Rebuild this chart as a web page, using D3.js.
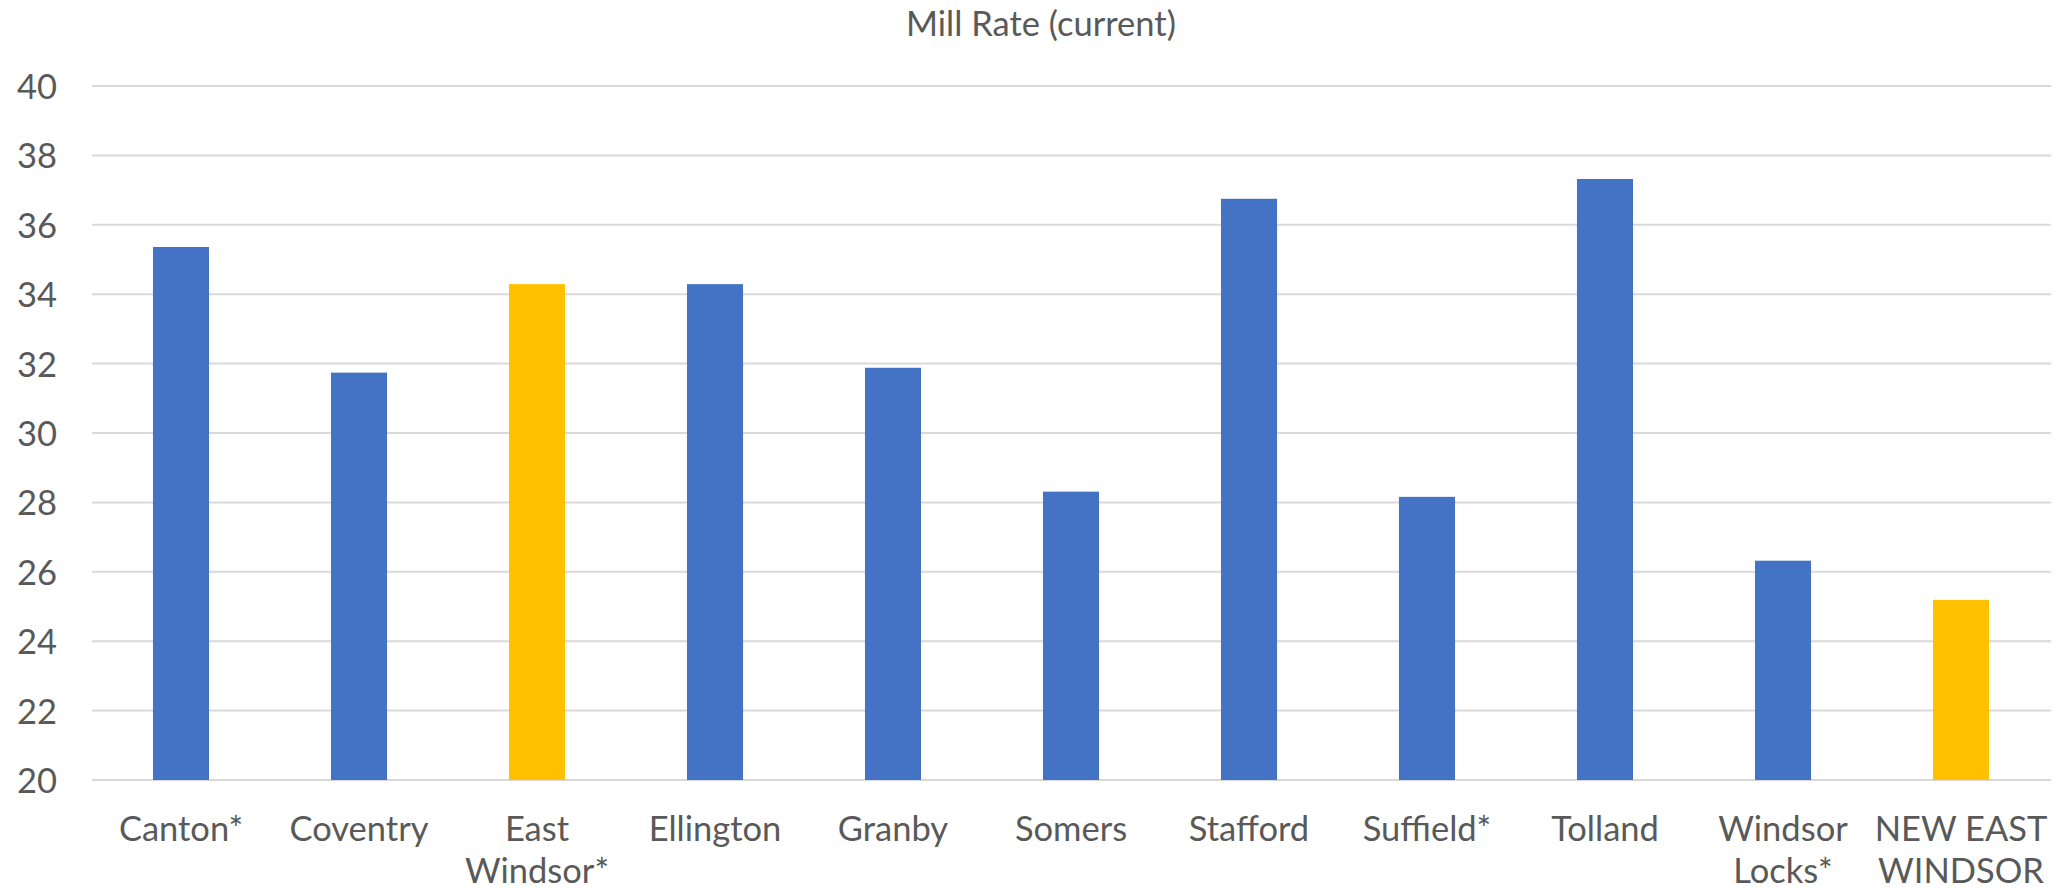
<!DOCTYPE html>
<html>
<head>
<meta charset="utf-8">
<script src="https://cdn.jsdelivr.net/npm/d3@7"></script>
<style>
  html, body { margin: 0; padding: 0; background: #ffffff; }
  svg { display: block; }
  text { font-family: "Lato", "Open Sans", sans-serif; fill: #595959; }
</style>
</head>
<body>
<svg id="chart" width="2058" height="890"></svg>
<script>
const categories = ["Canton*", "Coventry", "East Windsor*", "Ellington", "Granby", "Somers", "Stafford", "Suffield*", "Tolland", "Windsor Locks*", "NEW EAST WINDSOR"];
const labelLines = [["Canton*"], ["Coventry"], ["East", "Windsor*"], ["Ellington"], ["Granby"], ["Somers"], ["Stafford"], ["Suffield*"], ["Tolland"], ["Windsor", "Locks*"], ["NEW EAST", "WINDSOR"]];
const millRates = [35.36, 31.74, 34.29, 34.29, 31.88, 28.31, 36.75, 28.16, 37.32, 26.32, 25.19];
const highlighted = [false, false, true, false, false, false, false, false, false, false, true];
const yTicks = [20, 22, 24, 26, 28, 30, 32, 34, 36, 38, 40];
const chartTitle = "Mill Rate (current)";

const svg = d3.select("#chart");
const plotLeft = 92, plotRight = 2050, plotTop = 86, plotBottom = 780;
const fontSize = 34.5;

const x = d3.scaleBand().domain(categories).range([plotLeft, plotRight]).paddingInner(0.685).paddingOuter(0.3425);
const y = d3.scaleLinear().domain([20, 40]).range([plotBottom, plotTop]);

// gridlines
svg.append("g").selectAll("line").data(yTicks).join("line")
  .attr("x1", plotLeft).attr("x2", plotRight + 1)
  .attr("y1", d => y(d)).attr("y2", d => y(d))
  .attr("stroke", "#d9d9d9").attr("stroke-width", 2);

// y axis labels
const yAxis = d3.axisLeft(y).tickValues(yTicks).tickSize(0).tickPadding(0).tickFormat(d3.format("d"));
const gy = svg.append("g").attr("transform", "translate(57,0)").call(yAxis);
gy.select(".domain").remove();
gy.selectAll("text").attr("font-size", fontSize).attr("fill", "#595959").attr("dy", "0.36em")
  .style("font-family", "Lato, 'Open Sans', sans-serif");

// bars
svg.append("g").selectAll("rect").data(categories).join("rect")
  .attr("x", d => x(d))
  .attr("width", x.bandwidth())
  .attr("y", (d, i) => y(millRates[i]))
  .attr("height", (d, i) => y(20) - y(millRates[i]))
  .attr("fill", (d, i) => highlighted[i] ? "#FFC000" : "#4472C4");

// x labels
const xl = svg.append("g").selectAll("text").data(categories).join("text")
  .attr("x", d => x(d) + x.bandwidth() / 2)
  .attr("y", 841)
  .attr("text-anchor", "middle")
  .attr("font-size", fontSize);
xl.each(function(d, i) {
  const t = d3.select(this);
  labelLines[i].forEach((line, j) => {
    t.append("tspan").attr("x", x(d) + x.bandwidth() / 2).attr("dy", j === 0 ? 0 : 42).text(line);
  });
});

// title
svg.append("text").attr("x", 1041).attr("y", 36).attr("text-anchor", "middle")
  .attr("font-size", fontSize).text(chartTitle);
</script>
</body>
</html>
